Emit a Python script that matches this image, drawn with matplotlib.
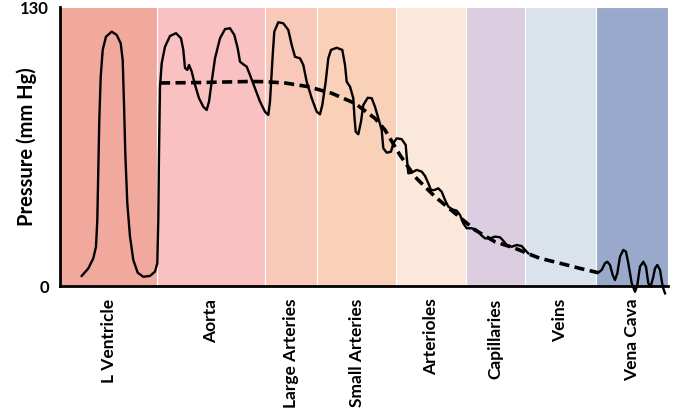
import matplotlib.pyplot as plt

# vessel segments along the circulation (positions in arbitrary distance units)
segments = ["L Ventricle", "Aorta", "Large Arteries", "Small Arteries",
            "Arterioles", "Capillaries", "Veins", "Vena Cava"]
edges = [0, 97, 205, 257, 336, 406, 465, 536, 608]
colors = ["#F2A99D", "#F9C1C1", "#F8C8B9", "#F8D1B8",
          "#FCE8DA", "#DCCDE1", "#DAE3EC", "#98A9CB"]

# pulsatile pressure, heart -> capillaries (mm Hg)
pos = [21.7, 28.3, 33.3, 36, 37.3, 38.3, 39.3, 40.7, 42.7, 46, 51.7, 56.7, 60.7, 62.7, 64,
       65.3, 67.3, 70, 73.3, 77.7, 83.3, 90, 95, 97.3, 98.3, 99, 100, 101.7, 105, 110, 116,
       121, 123.3, 125, 127.3, 129, 131.7, 135, 139, 143.3, 146.7, 149, 151.7, 155, 160,
       165, 170, 174.3, 177.7, 180, 183.3, 186.7, 190, 195, 200, 205, 208.3, 210, 211.7,
       212.7, 214.3, 218.3, 223.3, 228.3, 231.7, 235, 240, 243.3, 246.7, 251.7, 256.7, 260,
       262.3, 265.7, 268.3, 271, 276.7, 282.3, 285, 286.7, 290, 293.3, 294.3, 295.7, 298.3,
       301, 303.3, 307.7, 311.7, 315, 318.3, 321.7, 323.3, 326.7, 331, 333.3, 336.7, 341.7,
       345.7, 346.7, 348.3, 351.7, 356.7, 361.7, 365, 368.3, 371, 374.3, 378.3, 381.7, 385,
       388.3, 392.3, 396.7, 400, 403.3, 406.7, 411.7, 416.7, 421, 425, 430, 435, 440, 443.3,
       446.7, 451.7, 456.7, 461.7, 465, 468.3]
pressure = [4.7, 8.2, 12.9, 18.3, 30.8, 54.1, 77.4, 97.5, 110.0, 116.2, 118.5, 117.0,
            113.1, 105.3, 85.1, 61.8, 38.5, 23.0, 12.1, 6.2, 4.3, 4.7, 6.7, 10.6, 30.8, 61.8,
            92.9, 103.8, 111.5, 116.5, 117.8, 115.4, 110.0, 101.6, 100.7, 103.0, 99.9, 93.7,
            87.5, 83.5, 82.0, 85.9, 95.2, 106.1, 115.4, 119.7, 120.1, 117.0, 110.8, 104.5,
            103.3, 102.2, 98.3, 92.1, 85.9, 81.2, 79.7, 85.9, 99.9, 107.6, 118.5, 122.9,
            122.4, 119.3, 112.3, 106.8, 106.1, 103.0, 95.2, 87.5, 81.2, 80.0, 84.3, 95.2,
            106.1, 110.0, 111.0, 110.0, 103.0, 95.2, 92.9, 87.5, 79.7, 71.9, 70.7, 76.6, 84.3,
            87.7, 87.5, 83.5, 78.1, 72.7, 64.2, 62.1, 62.6, 66.5, 68.8, 68.4, 65.7, 60.2, 52.5,
            52.8, 54.1, 53.3, 51.3, 47.9, 44.7, 44.7, 45.5, 43.9, 40.1, 37.0, 35.7, 35.1, 33.1,
            29.2, 26.9, 26.9, 26.1, 23.8, 22.2, 22.2, 23.0, 22.7, 21.1, 19.1, 18.3, 19.1, 18.6,
            16.8, 15.2]

# venous pulse in the vena cava
vc_pos = [538.3, 541.7, 545, 547.3, 550, 552.7, 555, 557.3, 560, 563.3, 566, 568.3, 571.7,
          575, 577.3, 580, 583.3, 586, 588.3, 590.7, 593.3, 595, 597.3, 600, 602.7, 605]
vc_pressure = [6.2, 7.5, 10.6, 11.3, 9.8, 5.1, 2.8, 5.9, 13.7, 16.8, 16.0, 10.6, 1.3, -2.7,
               0.5, 9.0, 11.3, 9.0, 1.3, -0.3, 4.3, 8.2, 9.8, 7.5, -0.3, -3.4]

# mean pressure
mean_pos = [100, 140, 190, 205, 225, 248, 271.7, 295, 315, 325, 340, 355, 375, 395, 415,
            435, 455, 471.7, 480, 500, 520, 538.3]
mean_pressure = [94.6, 94.8, 95.3, 95.2, 94.6, 92.9, 89.8, 85.1, 78.1, 72.7, 61.0, 50.9,
                 41.6, 33.9, 26.1, 20.6, 17.6, 14.4, 12.9, 10.6, 8.2, 6.2]

plt.rcParams["font.family"] = ["Lato", "DejaVu Sans"]
plt.rcParams["font.weight"] = "bold"

fig = plt.figure(figsize=(6.85, 4.19), dpi=100)
ax = fig.add_axes([60 / 685, 133 / 419, 608 / 685, 279 / 419])

for i in range(len(segments)):
    ax.axvspan(edges[i], edges[i + 1], facecolor=colors[i], edgecolor="white",
               linewidth=0.8, zorder=0)

ax.plot(pos, pressure, color="black", lw=1.7, solid_joinstyle="round", zorder=3)
ax.plot(vc_pos, vc_pressure, color="black", lw=1.7, solid_joinstyle="round",
        clip_on=False, zorder=3)
ax.plot(mean_pos, mean_pressure, color="black", lw=2.6, ls=(0, (2.8, 1.5)), zorder=4)

ax.set_xlim(edges[0], edges[-1])
ax.set_ylim(0, 130)

centers = [(edges[i] + edges[i + 1]) / 2 for i in range(len(segments))]
ax.set_xticks(centers)
ax.set_xticklabels(segments, rotation=90, fontsize=12.5, fontweight="bold", va="top")
ax.set_yticks([0, 130])
ax.set_yticklabels(["0", "130"], fontsize=12, fontweight="bold")
ax.tick_params(length=0, pad=8)
ax.tick_params(axis="x", pad=9)

ax.set_ylabel("Pressure (mm Hg)", fontsize=14.5, fontweight="bold", va="center")
ax.yaxis.set_label_coords(-33 / 608, 0.5)

for side in ["top", "right"]:
    ax.spines[side].set_visible(False)
for side in ["left", "bottom"]:
    ax.spines[side].set_linewidth(2)
    ax.spines[side].set_zorder(5)

fig.savefig("out.png", dpi=100)
